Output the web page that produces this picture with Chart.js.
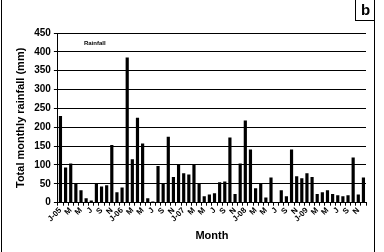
<!DOCTYPE html>
<html>
<head>
<meta charset="utf-8">
<script src="https://cdn.jsdelivr.net/npm/chart.js@4"></script>
<style>
  html, body { margin: 0; padding: 0; background: #fff; }
  #wrap { position: relative; width: 384px; height: 252px; }
  #frame { position: absolute; left: 1px; top: -2px; width: 372px; height: 260px;
           border-left: 1px solid #000; border-right: 1px solid #000; }
  #tag { position: absolute; left: 355px; top: -1px; width: 19px; height: 20px;
         border: 1px solid #000; border-right: none; font: bold 15px "Liberation Sans", Arial, sans-serif;
         text-align: center; line-height: 20px; }
</style>
</head>
<body>
<div id="wrap">
  <canvas id="rainChart" width="384" height="252"></canvas>
  <div id="frame"></div>
  <div id="tag">b</div>
</div>
<script>
// monthly totals, Jan 2005 - Dec 2009
const months = [];
const years = ["05", "06", "07", "08", "09"];
const monthNames = ["Jan", "Feb", "Mar", "Apr", "May", "Jun", "Jul", "Aug", "Sep", "Oct", "Nov", "Dec"];
years.forEach((y) => monthNames.forEach((m) => months.push(m + "-" + y)));

// labels shown under every second month
const tickLabels = [
  "J-05", "M", "M", "J", "S", "N",
  "J-06", "M", "M", "J", "S", "N",
  "J-07", "M", "M", "J", "S", "N",
  "J-08", "M", "M", "J", "S", "N",
  "J-09", "M", "M", "J", "S", "N",
];

const rain2005 = [230, 93, 104, 50, 33, 12, 6, 50, 43, 46, 153, 28];
const rain2006 = [40, 385, 115, 225, 157, 12, 3, 97, 50, 175, 68, 100];
const rain2007 = [78, 75, 100, 50, 17, 22, 25, 54, 56, 173, 23, 104];
const rain2008 = [218, 141, 38, 50, 14, 67, 0, 33, 17, 141, 70, 65];
const rain2009 = [78, 68, 23, 28, 33, 23, 20, 17, 20, 120, 22, 67];
const rainfall = [].concat(rain2005, rain2006, rain2007, rain2008, rain2009);

const fontFamily = '"Liberation Sans", Arial, sans-serif';

// little "Rainfall" caption inside the plot
const seriesCaption = {
  id: "seriesCaption",
  afterDraw(chart) {
    const ctx = chart.ctx;
    const area = chart.chartArea;
    ctx.save();
    ctx.font = "bold 6px " + fontFamily;
    ctx.fillStyle = "#000";
    ctx.textBaseline = "middle";
    ctx.fillText("Rainfall", area.left + 26, area.top + 10);
    ctx.restore();
  },
};

const ctx = document.getElementById("rainChart").getContext("2d");
new Chart(ctx, {
  type: "bar",
  data: {
    labels: months,
    datasets: [
      {
        label: "Rainfall",
        data: rainfall,
        backgroundColor: "#000",
        borderWidth: 0,
        barPercentage: 0.62,
        categoryPercentage: 1,
      },
    ],
  },
  options: {
    responsive: false,
    animation: false,
    layout: { padding: { top: 33, right: 18, left: 14, bottom: 9 } },
    plugins: {
      legend: { display: false },
      tooltip: { enabled: false },
    },
    scales: {
      x: {
        offset: true,
        grid: {
          display: true,
          drawOnChartArea: false,
          offset: true,
          color: "#000",
          tickLength: 3,
        },
        border: { color: "#000", width: 1 },
        ticks: {
          autoSkip: false,
          minRotation: 45,
          maxRotation: 45,
          padding: 0,
          color: "#000",
          font: { family: fontFamily, size: 8, weight: "bold" },
          callback: function (value, index) {
            return index % 2 === 0 ? tickLabels[index / 2] : "";
          },
        },
        title: {
          display: true,
          text: "Month",
          color: "#000",
          font: { family: fontFamily, size: 11, weight: "bold" },
          padding: { top: 6, bottom: 0 },
        },
      },
      y: {
        min: 0,
        max: 450,
        grid: { color: "#000", lineWidth: 1, tickLength: 4 },
        border: { color: "#000", width: 1 },
        ticks: {
          stepSize: 50,
          padding: 3,
          color: "#000",
          font: { family: fontFamily, size: 10, weight: "bold" },
        },
        title: {
          display: true,
          text: "Total monthly rainfall (mm)",
          color: "#000",
          font: { family: fontFamily, size: 11, weight: "bold" },
          padding: { top: 0, bottom: 4 },
        },
      },
    },
  },
  plugins: [seriesCaption],
});
</script>
</body>
</html>
